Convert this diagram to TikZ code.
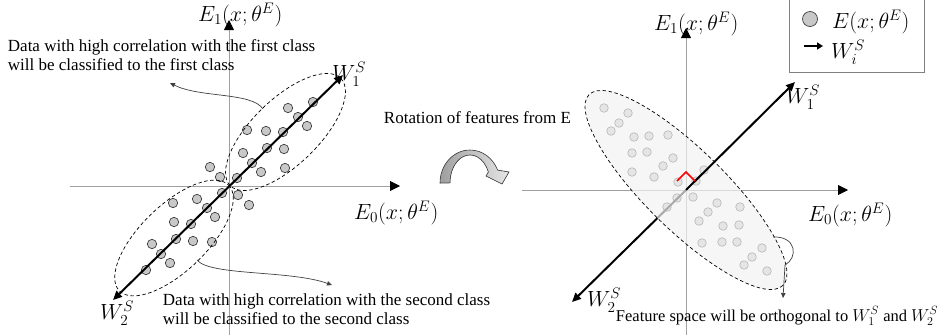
\documentclass[tikz,border=0pt]{standalone}
\usepackage{amsmath,amssymb}
\usepackage{fontspec}
\setmainfont{Liberation Serif}
\usepackage{tikz}
\usetikzlibrary{arrows.meta}

\definecolor{axisgray}{HTML}{A0A0A0}
\definecolor{dotgray}{HTML}{C8C8C8}
\definecolor{dotedge}{HTML}{404040}
\definecolor{notegray}{HTML}{404040}
\definecolor{planefill}{HTML}{F2F2F2}

\tikzset{
  axisline/.style={draw=axisgray,line width=0.9pt,-{Triangle[length=10pt,width=10pt,color=black]}},
  wvec/.style={line width=2pt,-{Triangle[length=9pt,width=8pt]}},
  dotL/.style={fill=dotgray,draw=dotedge,line width=0.7pt},
  clus/.style={dash pattern=on 3.5pt off 2.5pt,line width=0.7pt},
  note/.style={draw=notegray,line width=0.7pt,-{Triangle[length=5pt,width=4.5pt]}},
  lbl/.style={anchor=north west,inner sep=0.75pt,font=\fontsize{17}{19}\selectfont,scale=1.27},
  txt/.style={anchor=north west,inner sep=0.75pt,align=left,font=\fontsize{17}{19}\selectfont}
}

\begin{document}
\begin{tikzpicture}[x=1pt,y=1pt,yscale=-1,xscale=1]
\useasboundingbox (0,0) rectangle (950,335);

% left: features before rotation
\coordinate (oL) at (229,186);
\coordinate (w1L) at (343,75);
\coordinate (w2L) at (113,300);
\draw [axisline] (229,335) -- (229,20);
\draw [axisline] (70,186) -- (400,186);

\foreach \p in {(288,108),(313,102),(298,117),(307,126),(247,130),(266,131),(283,132),
  (243,153),(267,148),(284,149),(252,163),(261,172),(285,168),(237,178),
  (210,167),(220,177),(238,195),(249,205),
  (222,193),(173,203),(197,199),(207,208),(215,217),(174,222),(191,224),
  (176,239),(193,241),(212,242),(152,244),(161,254),(170,263),(146,270)}
  \draw [dotL] \p circle (4.7pt);

\draw [wvec,{Triangle[length=9pt,width=8pt]}-{Triangle[length=9pt,width=8pt]}] (w2L) -- (w1L);
\draw [clus,rotate around={-44:(285.5,132)}] (285.5,132) ellipse (77 and 33);
\draw [clus,rotate around={-44:(174,238)}] (174,238) ellipse (76 and 33);

\coordinate (aA) at (263,109);
\coordinate (aAend) at (170,83);
\coordinate (aB) at (197,260);
\coordinate (aBend) at (332,285);
\draw [note] (aA) .. controls (252,92) and (200,98) .. (aAend);
\draw [note] (aB) .. controls (210,276) and (290,270) .. (aBend);

\draw (197,2) node [lbl] (e1L) {$E_1(x;\theta^E)$};
\draw (353,200) node [lbl] (e0L) {$E_0(x;\theta^E)$};
\draw (331,61) node [lbl] (w1Ltxt) {$W_1^S$};
\draw (99,300) node [lbl] (w2Ltxt) {$W_2^S$};
\draw (7,39) node [txt] (noteA) {Data with high correlation with the first class\\will be classified to the first class};
\draw (162,293) node [txt] (noteB) {Data with high correlation with the second class\\will be classified to the second class};

% middle: rotation
\draw (383,111) node [txt] (rot) {Rotation of features from E};
\filldraw [draw=notegray,line width=0.6pt,left color=gray!75,right color=gray!20]
  (440,183) arc [start angle=180,end angle=337,x radius=30,y radius=33]
  -- (509,172) -- (502,184) -- (486,176) -- (488.4,172)
  arc [start angle=337,end angle=180,x radius=20,y radius=28] -- cycle;

% right: features after rotation
\coordinate (oR) at (686,190);
\coordinate (w1R) at (795,82);
\coordinate (w2R) at (572,302);
\draw [axisline] (686,335) -- (686,28);
\draw [axisline] (522,190) -- (848,190);

\foreach \p in {(604,108),(628,113),(619,123),(611,131),(634,137),(649,136),(668,135),
  (632,153),(647,152),(673,158),(663,166),(632,172),(654,177),(678,182),(696,181),
  (704,170),(693,197),(677,198),(667,207),(717,203),(708,212),(699,221),(740,207),
  (723,226),(739,225),(702,243),(722,242),(737,242),(762,248),(752,257),(744,265),(767,271)}
  \draw [dotL] \p circle (4.3pt);

\draw [line width=2pt,{Triangle[length=9pt,width=8pt]}-] (w2R) -- (oR);
\draw [clus,fill=planefill,fill opacity=0.7,rotate around={44.5:(686,190)}] (686,190) ellipse (136 and 40);
\draw [wvec] (oR) -- (w1R);
\draw [red,line width=1.6pt] (677,181) -- (686,172) -- (695,181);

\coordinate (aC) at (773,237);
\coordinate (aCmid) at (785,265);
\coordinate (aCend) at (783,298);
\draw [note,-] (aC) .. controls (797,236) and (798,258) .. (aCmid);
\draw [note] (aCmid) -- (aCend);

\draw (653,11) node [lbl] (e1R) {$E_1(x;\theta^E)$};
\draw (807,202) node [lbl] (e0R) {$E_0(x;\theta^E)$};
\draw (785,84) node [lbl] (w1Rtxt) {$W_1^S$};
\draw (586,287) node [lbl] (w2Rtxt) {$W_2^S$};
\draw (615,321) node [txt,anchor=base west,font=\fontsize{16.5}{19}\selectfont] (noteC) {Feature space will be orthogonal to $W_1^S$ and $W_2^S$};

% legend
\draw [line width=0.8pt,draw=gray] (789,-2) rectangle (924,72);
\draw [dotL] (810,19) circle (7.5pt);
\draw [line width=2pt,-{Triangle[length=6pt,width=7pt]}] (804,46) -- (823,46);
\draw (831,9) node [lbl] (legE) {$E(x;\theta^E)$};
\draw (830,39) node [lbl] (legW) {$W_i^S$};

\end{tikzpicture}
\end{document}
